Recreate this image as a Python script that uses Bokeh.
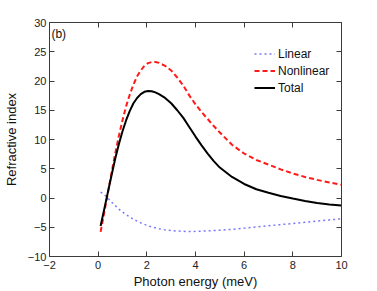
from bokeh.plotting import figure
from bokeh.models import LinearAxis, Range1d, Legend, LegendItem, Label, FixedTicker
from bokeh.embed import file_html
from bokeh.resources import INLINE

# Data
energy = [0.1, 0.25, 0.4, 0.55, 0.7, 0.85, 1.0, 1.15, 1.3, 1.45, 1.6, 1.75, 1.9, 2.05,
          2.2, 2.35, 2.5, 2.75, 3.0, 3.25, 3.5, 3.75, 4.0, 4.25, 4.5, 4.75, 5.0,
          5.5, 6.0, 6.5, 7.0, 7.5, 8.0, 8.5, 9.0, 9.5, 10.0]
linear = [1.0, 0.6, 0.0, -0.7, -1.3, -1.9, -2.4, -2.85, -3.25, -3.65, -3.95, -4.25, -4.5, -4.75,
          -4.95, -5.1, -5.25, -5.45, -5.55, -5.65, -5.7, -5.72, -5.7, -5.67, -5.62, -5.56, -5.5,
          -5.35, -5.15, -4.95, -4.75, -4.55, -4.35, -4.15, -3.95, -3.75, -3.55]
nonlinear = [-5.8, -2.5, 0.9, 4.3, 7.6, 10.6, 13.3, 15.7, 17.7, 19.4, 20.8, 21.8, 22.6, 23.05,
             23.25, 23.25, 23.1, 22.6, 21.8, 20.6, 19.2, 17.5, 16.0, 14.7, 13.5, 12.3, 11.2,
             9.1, 7.6, 6.5, 5.7, 4.9, 4.2, 3.6, 3.1, 2.65, 2.25]
total = [-4.8, -1.9, 1.0, 3.9, 6.7, 9.2, 11.4, 13.3, 14.9, 16.2, 17.1, 17.75, 18.15, 18.3,
         18.25, 18.05, 17.75, 17.1, 16.2, 15.0, 13.7, 12.1, 10.5, 9.0, 7.6, 6.3, 5.2,
         3.6, 2.4, 1.5, 0.9, 0.35, -0.1, -0.5, -0.85, -1.1, -1.3]

x_ticks = [-2, 0, 2, 4, 6, 8, 10]
y_ticks = [-10, -5, 0, 5, 10, 15, 20, 25, 30]

FONT = "Liberation Sans"
AX = "#3a3a3a"

p = figure(width=377, height=291, output_backend="svg", toolbar_location=None,
           x_range=Range1d(-2, 10), y_range=Range1d(-10, 30),
           min_border_left=49, min_border_right=36, min_border_top=22, min_border_bottom=33,
           x_axis_label="Photon energy (meV)", y_axis_label="Refractive index")
p.grid.visible = False
p.outline_line_color = None
p.background_fill_color = "white"
p.border_fill_color = "white"

def style_axis(ax, ticks, labels=True):
    ax.ticker = FixedTicker(ticks=ticks)
    ax.axis_line_color = AX
    ax.major_tick_line_color = AX
    ax.major_tick_in = 5
    ax.major_tick_out = 0
    ax.minor_tick_line_color = None
    ax.major_label_text_font = FONT
    ax.major_label_text_font_size = "11px"
    ax.major_label_text_color = "#222222"
    ax.axis_label_text_font = FONT
    ax.axis_label_text_font_size = "13px"
    ax.axis_label_text_font_style = "normal"
    ax.axis_label_text_color = "#111111"
    ax.major_label_standoff = 3
    ax.major_label_overrides = {t: str(t).replace("-", "\u2212") for t in ticks}
    if not labels:
        ax.major_label_text_alpha = 0
        ax.major_label_text_font_size = "1px"

style_axis(p.xaxis[0], x_ticks)
style_axis(p.yaxis[0], y_ticks)
p.xaxis[0].major_label_standoff = 4
p.xaxis[0].axis_label_standoff = 2
p.yaxis[0].axis_label_standoff = 6

top = LinearAxis()
right = LinearAxis()
style_axis(top, x_ticks, labels=False)
style_axis(right, y_ticks, labels=False)
p.add_layout(top, "above")
p.add_layout(right, "right")

r_lin = p.line(energy, linear, line_color="#7878ff", line_width=1.5, line_dash="2 3")
r_non = p.line(energy, nonlinear, line_color="#ff1a1a", line_width=2, line_dash="5 3")
r_tot = p.line(energy, total, line_color="black", line_width=2)

p.add_layout(Label(x=-1.92, y=29.3, text="(b)", text_font=FONT, text_font_size="12px",
                   text_baseline="top", text_color="#111111"))

legend = Legend(items=[LegendItem(label="Linear", renderers=[r_lin]),
                       LegendItem(label="Nonlinear", renderers=[r_non]),
                       LegendItem(label="Total", renderers=[r_tot])],
                location=(200, 155), margin=0, padding=5, spacing=0,
                glyph_width=21, label_standoff=3, label_height=17, glyph_height=17,
                label_text_font=FONT, label_text_font_size="12px",
                label_text_color="#111111",
                background_fill_alpha=0, border_line_alpha=0)
p.add_layout(legend, "center")

open("out.html", "w").write(file_html(p, INLINE))
